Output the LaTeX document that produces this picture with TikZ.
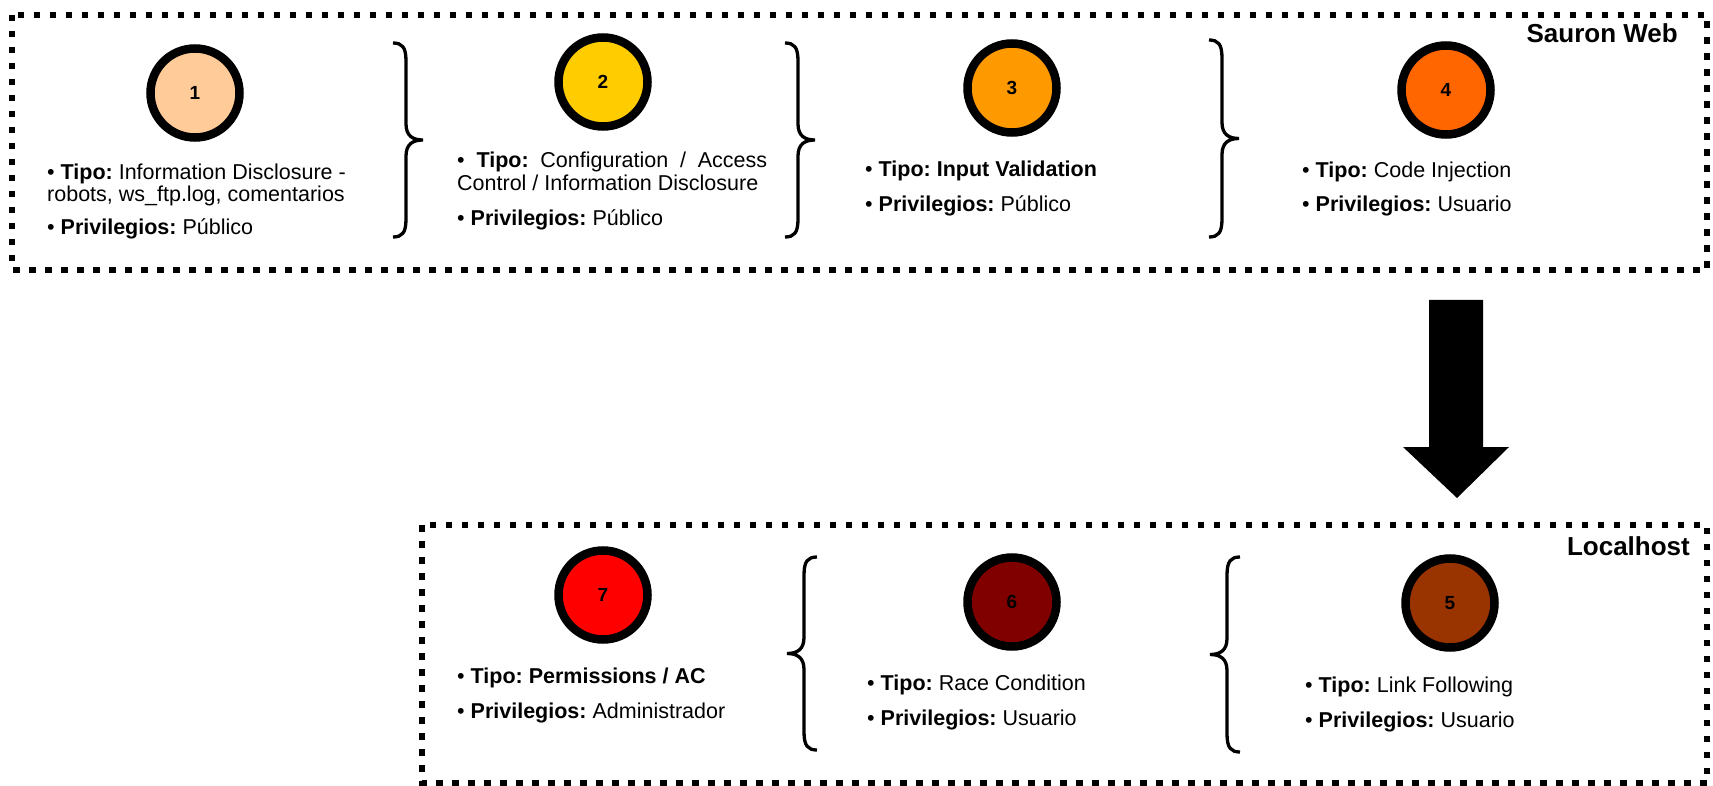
\documentclass[tikz,border=0pt]{standalone}
\usepackage{fontspec}
\setmainfont{Liberation Sans}
\frenchspacing
\definecolor{peach}{HTML}{FFCC99}
\definecolor{gold}{HTML}{FFCC00}
\definecolor{amber}{HTML}{FF9900}
\definecolor{tangerine}{HTML}{FF6600}
\definecolor{rust}{HTML}{993300}
\definecolor{maroon}{HTML}{800000}
\definecolor{brightred}{HTML}{FF0000}
\tikzset{
  stage/.style={circle, draw=black, line width=8.5pt, minimum size=89pt,
    inner sep=0pt, font=\fontsize{19}{20}\selectfont\bfseries},
  info/.style={anchor=base west, inner sep=0pt, font=\fontsize{21.5}{22}\selectfont},
  zone/.style={draw=black, line width=6.5pt, dash pattern=on 6.5pt off 9.5pt},
  zonelabel/.style={anchor=base east, inner sep=0pt, font=\fontsize{26}{28}\selectfont\bfseries},
  bracestroke/.style={draw=black, line width=3.3pt},
  rbrace/.pic={
    \draw[bracestroke] (0,0) .. controls (9,0) and (13,4) .. (13,18)
      -- (13,#1/2-16) .. controls (13,#1/2-4) and (20,#1/2) .. (30,#1/2)
      .. controls (20,#1/2) and (13,#1/2+4) .. (13,#1/2+16)
      -- (13,#1-18) .. controls (13,#1-4) and (9,#1) .. (0,#1);
  }
}
\begin{document}
\begin{tikzpicture}[x=1pt,y=-1pt]
\useasboundingbox (0,0) rectangle (1713,786);

% zones
\coordinate (webNW) at (12,15);
\coordinate (webSE) at (1707,270);
\coordinate (locNW) at (422,525);
\coordinate (locSE) at (1707,783);
\draw[zone] (webNW) rectangle (webSE);
\draw[zone] (locNW) rectangle (locSE);
\node[zonelabel] (weblabel) at (1678,43) {Sauron Web};
\node[zonelabel] (loclabel) at (1690,555) {Localhost};

% stages
\node[stage, fill=peach] (s1) at (195,93) {1};
\node[stage, fill=gold] (s2) at (603,82) {2};
\node[stage, fill=amber] (s3) at (1012,88) {3};
\node[stage, fill=tangerine] (s4) at (1446,90) {4};
\node[stage, fill=rust] (s5) at (1450,603) {5};
\node[stage, fill=maroon] (s6) at (1012,602) {6};
\node[stage, fill=brightred] (s7) at (603,595) {7};

% descriptions
\node[info] (t1a) at (47,180) {• \textbf{Tipo:} Information Disclosure -};
\node[info] (t1b) at (47,202) {robots, ws\_ftp.log, comentarios};
\node[info] (p1) at (47,235) {• \textbf{Privilegios:} Público};

\node[info] (t2a) at (457,168) {\makebox[310pt][s]{• \textbf{Tipo:} Configuration / Access}};
\node[info] (t2b) at (457,191) {Control / Information Disclosure};
\node[info] (p2) at (457,226) {• \textbf{Privilegios:} Público};

\node[info] (t3) at (865,177) {• \textbf{Tipo: Input Validation}};
\node[info] (p3) at (865,212) {• \textbf{Privilegios:} Público};

\node[info] (t4) at (1302,178) {• \textbf{Tipo:} Code Injection};
\node[info] (p4) at (1302,212) {• \textbf{Privilegios:} Usuario};

\node[info] (t5) at (1305,692) {• \textbf{Tipo:} Link Following};
\node[info] (p5) at (1305,727) {• \textbf{Privilegios:} Usuario};

\node[info] (t6) at (867,690) {• \textbf{Tipo:} Race Condition};
\node[info] (p6) at (867,725) {• \textbf{Privilegios:} Usuario};

\node[info] (t7) at (457,683) {• \textbf{Tipo: Permissions / AC}};
\node[info] (p7) at (457,718) {• \textbf{Privilegios:} Administrador};

% braces between stages
\pic at (393,43) {rbrace=194};
\pic at (785,43) {rbrace=194};
\pic at (1209,40) {rbrace=197};
\pic[xscale=-1] at (817,557) {rbrace=193};
\pic[xscale=-1] at (1240,557) {rbrace=195};

% transition from the web zone to the local zone
\fill[black] (1429,300) -- (1483,300) -- (1483,447) -- (1509,447)
  -- (1457,498) -- (1403,447) -- (1429,447) -- cycle;
\end{tikzpicture}
\end{document}
